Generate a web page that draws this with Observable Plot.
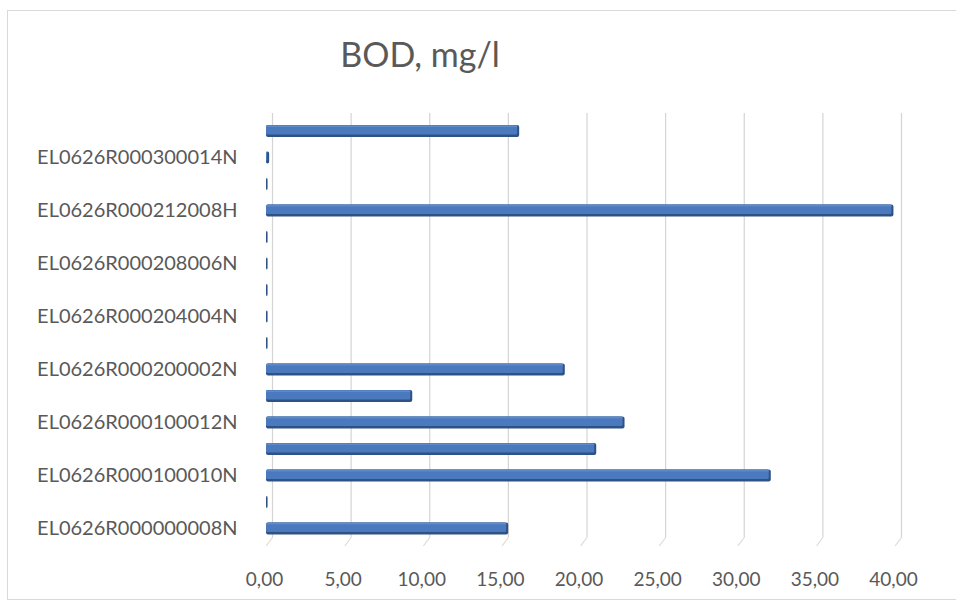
<!DOCTYPE html>
<html><head><meta charset="utf-8">
<script src="https://cdn.jsdelivr.net/npm/d3@7"></script>
<script src="https://cdn.jsdelivr.net/npm/@observablehq/plot@0.6"></script>
<style>
body{margin:0;background:#fff;font-family:Lato,sans-serif;}
#frame{position:absolute;left:7px;top:10px;width:960px;height:590px;border:1px solid #d9d9d9;box-sizing:border-box;}
#title{position:absolute;left:0;top:33px;width:840px;text-align:center;font-size:34px;color:#595959;font-family:Lato,sans-serif;}
#chart{position:absolute;left:0;top:90px;line-height:0;}
#chart svg{display:block;}
</style>
</head><body>
<div id="frame"></div>
<div id="title">BOD, mg/l</div>
<div id="chart"></div>
<script>
// Categories, bottom to top (Excel order)
const stations = [
  "EL0626R000000008N","EL0626R000100009N","EL0626R000100010N","EL0626R000100011N",
  "EL0626R000100012N","EL0626R000100013N","EL0626R000200002N","EL0626R000202003N",
  "EL0626R000204004N","EL0626R000206005N","EL0626R000208006N","EL0626R000210007N",
  "EL0626R000212008H","EL0626R000300013N","EL0626R000300014N","EL0626R000300015N"
];
const bod = [15.4, 0.1, 32.1, 21.0, 22.8, 9.3, 19.0, 0.1, 0.1, 0.1, 0.1, 0.1, 39.9, 0.1, 0.2, 16.1];
const xTicks = [0, 5, 10, 15, 20, 25, 30, 35, 40];
const labeledStations = stations.filter((d, i) => i % 2 === 0);

const data = stations.map((s, i) => ({station: s, value: bod[i]}));

const slant = {draw(ctx, l) { ctx.moveTo(0, 0); ctx.lineTo(0, -l); }};

const chart = Plot.plot({
  width: 956,
  height: 510,
  marginLeft: 266,
  marginRight: 61,
  marginTop: 20.5,
  marginBottom: 51,
  style: {fontFamily: "Lato, sans-serif", fontSize: "19px", color: "#595959", background: "transparent"},
  x: {domain: [0, 40]},
  y: {domain: stations.slice().reverse(), padding: 0.55, round: false},
  marks: [
    Plot.ruleX(xTicks, {stroke: "#d4d4d4", strokeWidth: 1.2, dx: 6, insetTop: 2.5, insetBottom: 12}),
    Plot.vector(xTicks, {x: d => d, frameAnchor: "bottom", anchor: "start", dx: 6, dy: -12, length: 10, rotate: 217, shape: slant, stroke: "#e2d9d0", strokeWidth: 1.2}),
    Plot.barX(data, {x: "value", y: "station", fill: "#2f5285", rx: 2}),
    Plot.barX(data, {x: "value", y: "station", fill: "#4a79bd", insetBottom: 2.5, insetRight: 2, rx: 1.5}),
    Plot.barX(data, {x: "value", y: "station", fill: "#5f8acb", insetBottom: 10, insetRight: 2, insetTop: 0.5}),
    Plot.axisY({ticks: labeledStations, tickSize: 0, tickPadding: 29, label: null, fontSize: 20}),
    Plot.axisX({ticks: xTicks, tickSize: 0, tickPadding: 23, dx: -2, label: null,
      tickFormat: d => d.toFixed(2).replace(".", ",")})
  ]
});
document.getElementById("chart").appendChild(chart);
</script>
</body></html>
